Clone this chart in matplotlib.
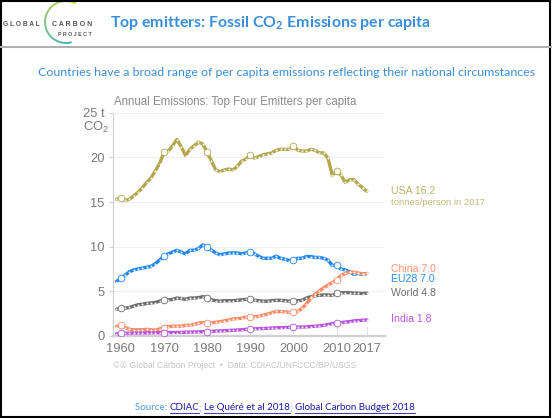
import matplotlib
matplotlib.use("Agg")
import matplotlib.pyplot as plt
import numpy as np
from matplotlib.patches import Arc, Rectangle
from matplotlib.lines import Line2D

W, H = 552, 418
plt.rcParams['mathtext.fontset'] = 'custom'
plt.rcParams['mathtext.rm'] = 'Lato:bold'
plt.rcParams['mathtext.bf'] = 'Lato:bold'

years = list(range(1959, 2018))
decade_years = [1960, 1970, 1980, 1990, 2000, 2010]

usa = [15.3, 15.5, 15.2, 15.3, 15.7, 16.1, 16.6, 17.2, 17.7, 18.5, 19.3,
       20.6, 20.7, 21.3, 22.0, 21.2, 20.2, 20.9, 21.3, 21.7, 21.5,
       20.6, 19.6, 18.6, 18.4, 18.6, 18.7, 18.6, 19.0, 19.6, 19.8,
       20.3, 19.9, 20.1, 20.3, 20.4, 20.5, 20.8, 20.9, 20.9, 20.9,
       21.3, 20.8, 20.7, 20.7, 20.9, 20.8, 20.5, 20.5, 19.9, 18.0,
       18.5, 18.0, 17.2, 17.5, 17.5, 17.0, 16.6, 16.2]
eu28 = [6.1, 6.45, 6.8, 7.2, 7.4, 7.5, 7.6, 7.7, 7.8, 8.1, 8.5,
        8.95, 9.2, 9.4, 9.6, 9.4, 9.2, 9.6, 9.6, 9.8, 10.2,
        10.0, 9.6, 9.3, 9.1, 9.2, 9.3, 9.3, 9.3, 9.2, 9.3,
        9.45, 9.2, 8.9, 8.7, 8.7, 8.7, 8.95, 8.7, 8.6, 8.45,
        8.5, 8.7, 8.7, 8.9, 8.9, 8.8, 8.8, 8.7, 8.5, 7.9,
        7.9, 7.5, 7.4, 7.2, 6.9, 7.0, 6.9, 7.0]
world = [3.0, 3.1, 3.1, 3.2, 3.35, 3.5, 3.55, 3.65, 3.7, 3.75, 3.9,
         4.0, 4.05, 4.1, 4.25, 4.2, 4.1, 4.25, 4.25, 4.3, 4.4,
         4.3, 4.05, 3.95, 3.9, 3.95, 3.95, 3.95, 4.0, 4.05, 4.1,
         4.1, 4.0, 3.95, 3.9, 3.9, 3.95, 4.0, 4.0, 3.95, 3.9,
         3.95, 3.95, 4.0, 4.25, 4.4, 4.5, 4.55, 4.6, 4.6, 4.55,
         4.8, 4.85, 4.85, 4.85, 4.8, 4.8, 4.75, 4.8]
china = [1.05, 1.2, 0.95, 0.75, 0.7, 0.7, 0.7, 0.75, 0.7, 0.65, 0.8,
         0.95, 1.05, 1.1, 1.1, 1.1, 1.2, 1.2, 1.3, 1.45, 1.5,
         1.5, 1.45, 1.55, 1.6, 1.7, 1.8, 1.9, 1.95, 2.0, 2.1,
         2.1, 2.15, 2.2, 2.35, 2.45, 2.6, 2.75, 2.75, 2.7, 2.65,
         2.7, 2.75, 3.1, 3.6, 4.2, 4.7, 5.05, 5.4, 5.7, 6.0,
         6.25, 6.8, 7.0, 7.15, 7.15, 7.05, 6.95, 7.0]
india = [0.25, 0.28, 0.3, 0.32, 0.33, 0.33, 0.35, 0.35, 0.35, 0.37, 0.37,
         0.37, 0.38, 0.39, 0.39, 0.4, 0.42, 0.44, 0.45, 0.46, 0.48,
         0.5, 0.53, 0.55, 0.57, 0.58, 0.62, 0.64, 0.67, 0.7, 0.74,
         0.77, 0.8, 0.82, 0.84, 0.86, 0.89, 0.92, 0.93, 0.94, 0.98,
         0.99, 1.0, 1.0, 1.02, 1.06, 1.09, 1.13, 1.2, 1.28, 1.38,
         1.42, 1.47, 1.57, 1.6, 1.7, 1.73, 1.76, 1.8]

series_names = ["World", "EU28", "China", "India", "USA"]
series_values = [world, eu28, china, india, usa]
series_colors = ["#6b6b6b", "#1e86f0", "#fa8a62", "#b64fde", "#b3a64c"]
label_texts = ["World 4.8", "EU28 7.0", "China 7.0", "India 1.8", "USA 16.2"]
label_colors = ["#6e6e6e", "#2a8cf0", "#fb9270", "#bb55e0", "#bdb265"]
label_ypix = [293.5, 278.5, 268.5, 319.5, 191.5]

yticks = [0, 5, 10, 15, 20, 25]
ytick_labels = ["0", "5", "10", "15", "20", "25 t"]
xticks = [1960, 1970, 1980, 1990, 2000, 2010, 2017]
xtick_labels = ["1960", "1970", "1980", "1990", "2000", "2010", "2017"]

fig = plt.figure(figsize=(W / 100, H / 100), dpi=100)
renderer = fig.canvas.get_renderer()

def fx(x):
    return x / W

def fy(y):
    return 1 - y / H

def fit(t, target_w):
    bb = t.get_window_extent(renderer)
    t.set_fontsize(t.get_fontsize() * target_w / bb.width)

# ---- chart axes ----
ymax = 25.5
ax = fig.add_axes([fx(113), fy(336), (385 - 113) / W, ymax * 8.93 / H])
ax.set_xlim(1958.2, 2021.2)
ax.set_ylim(0, ymax)
for s in ["top", "right"]:
    ax.spines[s].set_visible(False)
ax.spines["left"].set_color("#d0d0d0")
ax.spines["left"].set_bounds(0, 25)
ax.spines["bottom"].set_color("#cfcfcf")
ax.spines["bottom"].set_linewidth(1.6)
ax.set_yticks(yticks)
ax.set_yticklabels(ytick_labels)
ax.set_xticks(xticks)
ax.set_xticklabels(xtick_labels)
ax.tick_params(axis="y", length=3, color="#d0d0d0", labelcolor="#7a7a7a", labelsize=9.3, pad=3)
ax.tick_params(axis="x", length=7, direction="in", color="#e0e0e0", labelcolor="#7a7a7a", labelsize=9.3, pad=5)
for lab in ax.get_xticklabels() + ax.get_yticklabels():
    lab.set_family("Liberation Sans")
ax.grid(axis="y", color="#f0f0f0", linewidth=0.8)
ax.set_axisbelow(True)

for name, vals, col in zip(series_names, series_values, series_colors):
    ax.plot(years, vals, color=col, lw=2.4, solid_capstyle="round", zorder=3)
    ax.plot(years, vals, ls="none", marker="o", ms=1.5, mfc="white", mec="none", alpha=0.9, zorder=4)
    dv = [vals[years.index(y)] for y in decade_years]
    ax.plot(decade_years, dv, ls="none", marker="o", ms=4.8, mfc="white", mec=col, mew=0.6, zorder=5)

# CO2 under 25 t
fig.text(fx(108.5), fy(127), "CO$\\mathregular{_2}$", ha="right", va="center", color="#7a7a7a",
         fontsize=9.3, family="Liberation Sans")

# chart title
t = fig.text(fx(114), fy(101.5), "Annual Emissions: Top Four Emitters per capita", ha="left", va="center",
             color="#8a8a8a", fontsize=9.6, family="Liberation Sans")
fit(t, 243)

# series labels
for txt, c, yp in zip(label_texts, label_colors, label_ypix):
    fig.text(fx(391), fy(yp), txt, ha="left", va="center", color=c, fontsize=7.6, family="Liberation Sans")
fig.text(fx(391), fy(202.5), "tonnes/person in 2017", ha="left", va="center", color="#c4b978",
         fontsize=6.8, family="Liberation Sans")

# footer credit
t = fig.text(fx(113), fy(366), "\u00a9\u2460 Global Carbon Project  \u2022  Data: CDIAC/UNFCCC/BP/USGS", ha="left",
             va="center", color="#c4c4c4", fontsize=6.6,
             family=["Liberation Sans", "DejaVu Sans", "Noto Sans CJK SC"])
fit(t, 242)

# ---- slide header ----
t = fig.text(fx(110), fy(23), "Top emitters: Fossil CO$_2$ Emissions per capita", ha="left", va="center",
             color="#3b8ed8", fontsize=12, family="Lato", weight="bold")
fit(t, 320)
fig.add_artist(Line2D([0, 1], [fy(47), fy(47)], color="#b0b0b0", lw=1.5, transform=fig.transFigure))

t = fig.text(fx(286), fy(73), "Countries have a broad range of per capita emissions reflecting their national circumstances",
             ha="center", va="center", color="#3b8ed8", fontsize=9.5, family="Lato")
fit(t, 502)

# logo
t = fig.text(fx(3), fy(25), "G L O B A L", ha="left", va="center", color="#555555", fontsize=5.2,
             family="Liberation Sans", weight="bold")
fit(t, 37)
t = fig.text(fx(52), fy(25), "C A R B O N", ha="left", va="center", color="#555555", fontsize=5.2,
             family="Liberation Sans", weight="bold")
fit(t, 40)
t = fig.text(fx(58), fy(34.5), "P R O J E C T", ha="left", va="center", color="#555555", fontsize=4.6,
             family="Liberation Sans", weight="bold")
fit(t, 33)
lax = fig.add_axes([fx(40), fy(46), 46 / W, 46 / H])
lax.set_xlim(-23, 23)
lax.set_ylim(-23, 23)
lax.axis("off")
n = 30
a0, a1 = 62, 285
c0 = np.array([0.78, 0.85, 0.25])
c1 = np.array([0.25, 0.70, 0.72])
for i in range(n):
    t0 = a0 + (a1 - a0) * i / n
    t1 = a0 + (a1 - a0) * (i + 1) / n
    c = c0 + (c1 - c0) * i / (n - 1)
    lax.add_patch(Arc((3, 1), 42, 42, theta1=t0, theta2=t1 + 0.5, color=c, lw=1.4))

# source line
pieces = [("Source: ", "#4a9de0", False), ("CDIAC", "#1a1aa6", True), ("; ", "#4a9de0", False),
          ("Le Qu\u00e9r\u00e9 et al 2018", "#1a1aa6", True), ("; ", "#4a9de0", False),
          ("Global Carbon Budget 2018", "#1a1aa6", True)]
# measure total width at base size, then scale to fit 280 px
base = 7.6
tot = 0
tmp = []
for txt, col, ul in pieces:
    tt = fig.text(0, 0, txt, fontsize=base, family="Lato")
    tot += tt.get_window_extent(renderer).width
    tmp.append(tt)
for tt in tmp:
    tt.remove()
fs = base * 280 / tot
x = 135
ysrc = 408
for txt, col, ul in pieces:
    t = fig.text(fx(x), fy(ysrc), txt, ha="left", va="center", color=col, fontsize=fs, family="Lato")
    bb = t.get_window_extent(renderer)
    if ul:
        fig.add_artist(Line2D([fx(x), fx(x + bb.width)], [fy(ysrc + 5), fy(ysrc + 5)], color=col, lw=0.6,
                              transform=fig.transFigure))
    x += bb.width

# border
fig.add_artist(Rectangle((0.001, 0.002), 0.996, 0.996, fill=False, ec="black", lw=1.5, transform=fig.transFigure))

fig.savefig("out.png", dpi=100)
